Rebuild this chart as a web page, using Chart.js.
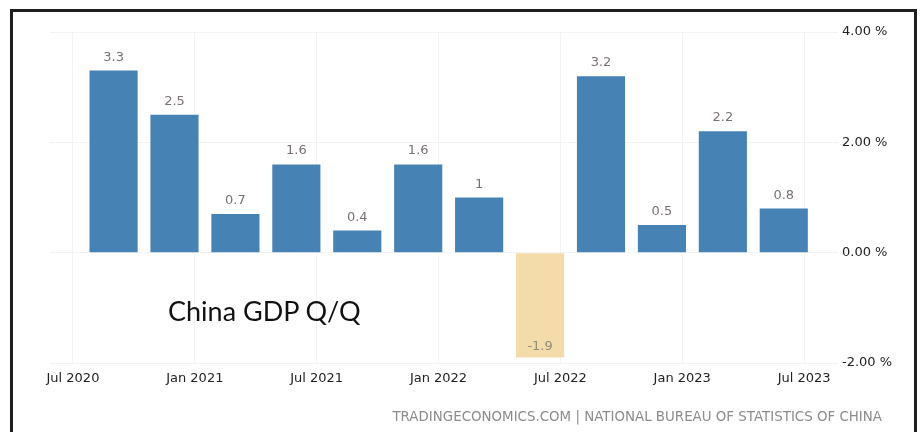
<!DOCTYPE html>
<html>
<head>
<meta charset="utf-8">
<script src="https://cdn.jsdelivr.net/npm/chart.js@4.4.0/dist/chart.umd.min.js"></script>
<style>
  html, body { margin: 0; padding: 0; background: #fff; }
  #wrap { position: relative; width: 922px; height: 432px; overflow: hidden; background: #fff; }
  #frame { position: absolute; left: 10px; top: 9px; width: 901px; height: 460px; border: 3px solid #1e1e1e; border-bottom: none; }
  canvas { position: absolute; left: 0; top: 0; }
  #title { position: absolute; left: 168px; top: 297px; font: 27px Lato, sans-serif; color: #111; line-height: 1; white-space: nowrap; }
  #source { position: absolute; right: 40px; top: 410px; font: 13.4px "DejaVu Sans", sans-serif; color: #8c8c8c; line-height: 1; white-space: nowrap; }
</style>
</head>
<body>
<div id="wrap">
  <div id="frame"></div>
  <canvas id="grafico" width="922" height="432"></canvas>
  <div id="title">China GDP Q/Q</div>
  <div id="source">TRADINGECONOMICS.COM | NATIONAL BUREAU OF STATISTICS OF CHINA</div>
</div>
<script>
// Dados: PIB da China, variação trimestral (%)
const trimestres = ["Q3 2020", "Q4 2020", "Q1 2021", "Q2 2021", "Q3 2021", "Q4 2021",
                    "Q1 2022", "Q2 2022", "Q3 2022", "Q4 2022", "Q1 2023", "Q2 2023"];
const pibQoQ = [3.3, 2.5, 0.7, 1.6, 0.4, 1.6, 1, -1.9, 3.2, 0.5, 2.2, 0.8];
const rotulosX = ["Jul 2020", "Jan 2021", "Jul 2021", "Jan 2022", "Jul 2022", "Jan 2023", "Jul 2023"];
const ticksY = [-2, 0, 2, 4];

const meses = ["Jan", "Feb", "Mar", "Apr", "May", "Jun", "Jul", "Aug", "Sep", "Oct", "Nov", "Dec"];

// meses desde jan 2020 (barra fica no terceiro mês do trimestre)
function mesDoTrimestre(t) {
    const [q, ano] = t.split(" ");
    return (Number(ano) - 2020) * 12 + Number(q.slice(1)) * 3 - 1;
}
function mesDoRotulo(r) {
    const [m, ano] = r.split(" ");
    return (Number(ano) - 2020) * 12 + meses.indexOf(m);
}
const mesesTicks = rotulosX.map(mesDoRotulo);

const fonteEixo = { family: "DejaVu Sans", size: 13 };

// Rótulos de valor em cima das barras
const rotulosBarras = {
    id: "rotulosBarras",
    afterDatasetsDraw(chart) {
        const ctx = chart.ctx;
        const meta = chart.getDatasetMeta(0);
        ctx.save();
        ctx.font = '13px "DejaVu Sans"';
        ctx.textAlign = "center";
        ctx.textBaseline = "alphabetic";
        meta.data.forEach((barra, i) => {
            const v = pibQoQ[i];
            if (v >= 0) {
                ctx.fillStyle = "#7a7272";
                ctx.fillText(String(v), barra.x, barra.y - 10);
            } else {
                ctx.fillStyle = "#958b7c";
                ctx.fillText(String(v), barra.x, barra.y - 7);
            }
        });
        ctx.restore();
    }
};

new Chart(document.getElementById("grafico"), {
    type: "bar",
    data: {
        datasets: [{
            data: trimestres.map((t, i) => ({ x: mesDoTrimestre(t), y: pibQoQ[i] })),
            backgroundColor: pibQoQ.map(v => v < 0 ? "#f3dbaa" : "#4682b4"),
            borderWidth: 0,
            barPercentage: 0.79,
            categoryPercentage: 1
        }]
    },
    options: {
        responsive: false,
        animation: false,
        devicePixelRatio: 1,
        events: [],
        layout: { padding: { left: 50, top: 32, right: 0, bottom: 0 } },
        plugins: { legend: { display: false }, tooltip: { enabled: false } },
        scales: {
            x: {
                type: "linear",
                min: 4.87,
                max: 43.67,
                offset: false,
                grid: { color: "#f3f3f3", drawTicks: false, offset: false },
                border: { display: false },
                afterBuildTicks: s => { s.ticks = mesesTicks.map(v => ({ value: v })); },
                afterFit: s => { s.height = 69; },
                ticks: {
                    autoSkip: false,
                    maxRotation: 0,
                    padding: 8,
                    color: "#222",
                    font: fonteEixo,
                    callback: v => rotulosX[mesesTicks.indexOf(v)]
                }
            },
            y: {
                position: "right",
                min: ticksY[0],
                max: ticksY[ticksY.length - 1],
                grid: { color: "#f3f3f3", drawTicks: false },
                border: { display: false },
                afterBuildTicks: s => { s.ticks = ticksY.map(v => ({ value: v })); },
                afterFit: s => { s.width = 84; },
                ticks: {
                    padding: 4,
                    color: "#222",
                    font: fonteEixo,
                    callback: v => v.toFixed(2) + " %"
                }
            }
        }
    },
    plugins: [rotulosBarras]
});
</script>
</body>
</html>
